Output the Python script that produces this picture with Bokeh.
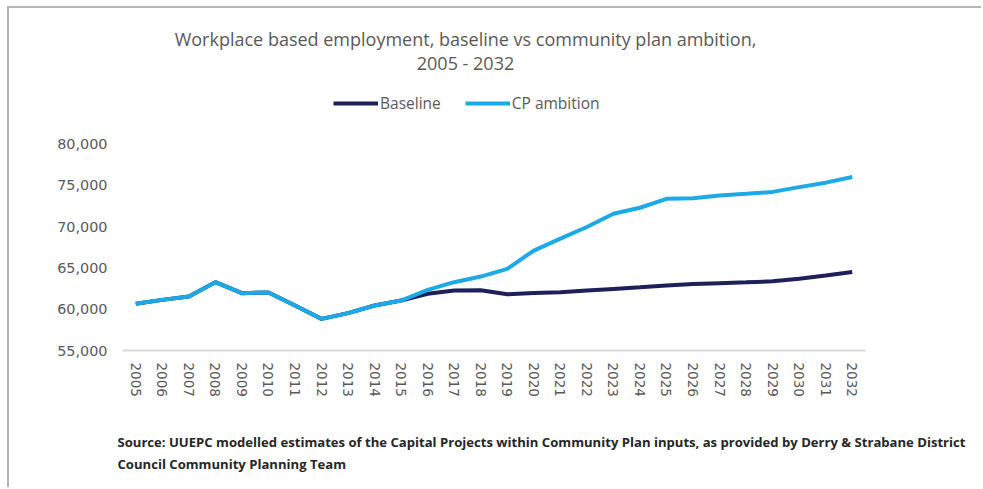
import math
from bokeh.plotting import figure
from bokeh.models import (ColumnDataSource, FactorRange, Range1d, FixedTicker,
                          NumeralTickFormatter, Title, Label, Legend, LegendItem)
from bokeh.embed import file_html
from bokeh.resources import INLINE

# ---- data ----
years = [str(y) for y in range(2005, 2033)]
baseline = [60650, 61130, 61540, 63270, 61940, 62020, 60450, 58830, 59520, 60450,
            61050, 61860, 62260, 62300, 61800, 61950, 62060, 62260, 62460, 62660,
            62870, 63050, 63150, 63250, 63370, 63680, 64080, 64500]
cp_ambition = [60650, 61130, 61540, 63270, 61940, 62020, 60450, 58830, 59520, 60450,
               61050, 62340, 63270, 63950, 64890, 67100, 68550, 69950, 71550, 72280,
               73360, 73440, 73770, 73980, 74200, 74780, 75320, 76000]
y_ticks = [55000, 60000, 65000, 70000, 75000, 80000]
title_lines = ["Workplace based employment, baseline vs community plan ambition,",
               "2005 - 2032"]
series_names = ["Baseline", "CP ambition"]
source_lines = ["Source: UUEPC modelled estimates of the Capital Projects within Community Plan inputs, as provided by Derry & Strabane District",
                "Council Community Planning Team"]

NAVY = "#1e1f5b"
BLUE = "#1ca9e6"
GRAY = "#595959"

src = ColumnDataSource(dict(year=years, base=baseline, cp=cp_ambition))

# frame extends to the top of the canvas so title and legend can sit inside it;
# the y axis still shows only 55,000 - 80,000
p = figure(width=974, height=481, x_range=FactorRange(*years, range_padding=0),
           y_range=Range1d(55000, 96404), output_backend="svg", toolbar_location=None,
           min_border_left=113, min_border_right=118, min_border_top=0,
           min_border_bottom=139,
           styles={"margin-left": "7px", "margin-top": "6px",
                   "border-top": "2px solid #b4b4b4", "border-left": "2px solid #b4b4b4"})
p.outline_line_color = None
p.xgrid.grid_line_color = None
p.ygrid.grid_line_color = None

r_base = p.line("year", "base", source=src, line_color=NAVY, line_width=4)
r_cp = p.line("year", "cp", source=src, line_color=BLUE, line_width=4)

# axes
p.yaxis.ticker = FixedTicker(ticks=y_ticks)
p.yaxis.formatter = NumeralTickFormatter(format="0,0")
p.yaxis.axis_line_color = None
p.yaxis.major_tick_line_color = None
p.yaxis.minor_tick_line_color = None
p.yaxis.major_label_text_font = "DejaVu Sans"
p.yaxis.major_label_text_font_size = "14.4px"
p.yaxis.major_label_text_color = GRAY
p.yaxis.major_label_standoff = 9

p.xaxis.axis_line_color = "#d9d9d9"
p.xaxis.axis_line_width = 2
p.xaxis.major_tick_line_color = None
p.xaxis.minor_tick_line_color = None
p.xaxis.major_label_orientation = -math.pi / 2
p.xaxis.major_label_text_font = "DejaVu Sans"
p.xaxis.major_label_text_font_size = "13.5px"
p.xaxis.major_label_text_color = GRAY
p.xaxis.major_label_standoff = 6

# title (inside the extended frame, screen units from frame bottom-left)
p.add_layout(Label(x=343, y=312, x_units="screen", y_units="screen", text=title_lines[0],
                   text_align="center", text_baseline="middle", text_font="Open Sans",
                   text_font_size="18px", text_color=GRAY))
p.add_layout(Label(x=343, y=288, x_units="screen", y_units="screen", text=title_lines[1],
                   text_align="center", text_baseline="middle", text_font="Open Sans",
                   text_font_size="18px", text_color=GRAY))

# legend
legend = Legend(items=[LegendItem(label=series_names[0], renderers=[r_base]),
                       LegendItem(label=series_names[1], renderers=[r_cp])],
                location=(211, 236), orientation="horizontal",
                label_text_font="Open Sans", label_text_font_size="15.5px",
                label_text_color=GRAY, glyph_width=45, glyph_height=20,
                label_standoff=2, spacing=24, padding=0, margin=0,
                border_line_color=None, background_fill_alpha=0)
p.add_layout(legend, "center")

# gap between the axis labels and the source note
p.add_layout(Title(text=" ", standoff=17, text_font_size="12px"), "below")
# source note below the axis
p.add_layout(Title(text=source_lines[0] + "\n" + source_lines[1], align="left", offset=-5,
                   standoff=0, vertical_align="top", text_line_height=1.25,
                   text_font="Open Sans", text_font_size="13.1px", text_font_style="bold",
                   text_color="#262626"), "below")

open("out.html", "w").write(file_html(p, INLINE))
